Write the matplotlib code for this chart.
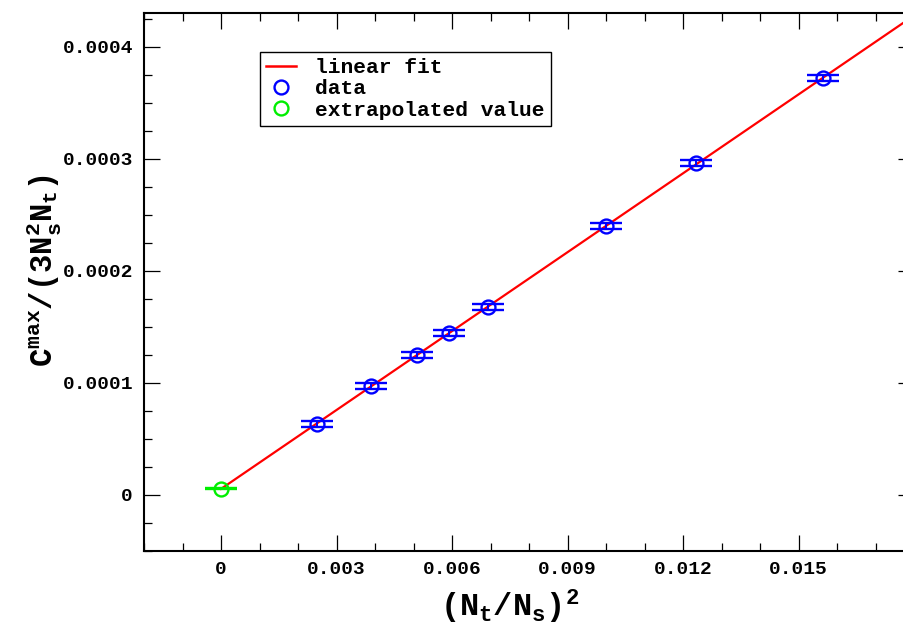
import numpy as np
import matplotlib
matplotlib.use("Agg")
import matplotlib.pyplot as plt
from matplotlib.lines import Line2D
from matplotlib.ticker import FixedLocator, MultipleLocator, FuncFormatter

# (Nt/Ns)^2 for Nt = 1, Ns = 20, 16, 14, 13, 12, 10, 9, 8
ns = np.array([20, 16, 14, 13, 12, 10, 9, 8])
x_data = (1.0 / ns) ** 2
y_data = [6.33e-5, 9.73e-5, 1.249e-4, 1.445e-4, 1.677e-4, 2.40e-4, 2.962e-4, 3.72e-4]
y_err = [2.5e-6] * 8

x_extrap = [0.0]
y_extrap = [5.4e-6]
y_extrap_err = [0.5e-6]

fit_x = [0.0, 0.018]
x_ticks = [0, 0.003, 0.006, 0.009, 0.012, 0.015]
y_ticks = [0, 0.0001, 0.0002, 0.0003, 0.0004]

slope = (y_data[-1] - y_extrap[0]) / x_data[-1]
fit_y = [y_extrap[0] + slope * v for v in fit_x]

plt.rcParams["font.family"] = ["Liberation Mono", "DejaVu Sans Mono"]
plt.rcParams["font.weight"] = "bold"
plt.rcParams["mathtext.fontset"] = "custom"
plt.rcParams["mathtext.rm"] = "Liberation Mono:bold"
plt.rcParams["mathtext.it"] = "Liberation Mono:bold"
plt.rcParams["mathtext.bf"] = "Liberation Mono:bold"

fig = plt.figure(figsize=(9.04, 6.26), dpi=100)
ax = fig.add_axes([144 / 904, 75 / 626, 770 / 904, 538 / 626])

ax.plot(fit_x, fit_y, color="red", lw=1.6, zorder=2)
ax.errorbar(x_data, y_data, yerr=y_err, fmt="o", ms=10, mfc="none", mec="blue",
            mew=1.7, ecolor="blue", elinewidth=1.4, capsize=11.5, capthick=2.0, zorder=3)
ax.errorbar(x_extrap, y_extrap, yerr=y_extrap_err, fmt="o", ms=10, mfc="none",
            mec="#00ee00", mew=1.7, ecolor="#00ee00", elinewidth=1.4, capsize=11.5,
            capthick=2.2, zorder=3)

ax.set_xlim(-0.002, 0.018)
ax.set_ylim(-0.00005, 0.00043)
ax.xaxis.set_major_locator(FixedLocator(x_ticks))
ax.xaxis.set_minor_locator(MultipleLocator(0.001))
ax.yaxis.set_major_locator(FixedLocator(y_ticks))
ax.yaxis.set_minor_locator(MultipleLocator(0.000025))
ax.xaxis.set_major_formatter(FuncFormatter(lambda v, p: "0" if abs(v) < 1e-12 else f"{v:.3f}"))
ax.yaxis.set_major_formatter(FuncFormatter(lambda v, p: "0" if abs(v) < 1e-12 else f"{v:.4f}"))
ax.tick_params(which="both", direction="in", top=True, right=True, width=0.9,
               labelsize=14)
ax.tick_params(which="major", length=11.5)
ax.tick_params(which="minor", length=5.8)
ax.tick_params(axis="y", pad=8)
ax.tick_params(axis="x", pad=7)
for s in ax.spines.values():
    s.set_linewidth(1.5)

ax.set_ylabel(r"$\mathbf{C^{max}/(3N_s^2N_t)}$", fontsize=22)
ax.yaxis.set_label_coords(-0.104, 0.52)
ax.set_xlabel(r"$\mathbf{(N_t/N_s)^2}$", fontsize=23)
ax.xaxis.set_label_coords(0.475, -0.068)

handles = [
    Line2D([], [], color="red", lw=1.8),
    Line2D([], [], ls="none", marker="o", ms=10, mfc="none", mec="blue", mew=1.7),
    Line2D([], [], ls="none", marker="o", ms=10, mfc="none", mec="#00ee00", mew=1.7),
]
leg = ax.legend(handles, ["linear fit", "data", "extrapolated value"],
                loc="upper left", bbox_to_anchor=(116 / 770, 1 - 39 / 538),
                fancybox=False, edgecolor="black", framealpha=1, fontsize=15.3,
                handlelength=1.4, handletextpad=0.9, borderpad=0.3,
                labelspacing=0.1, borderaxespad=0)
leg.get_frame().set_linewidth(1.0)

fig.savefig("out.png", dpi=100)
